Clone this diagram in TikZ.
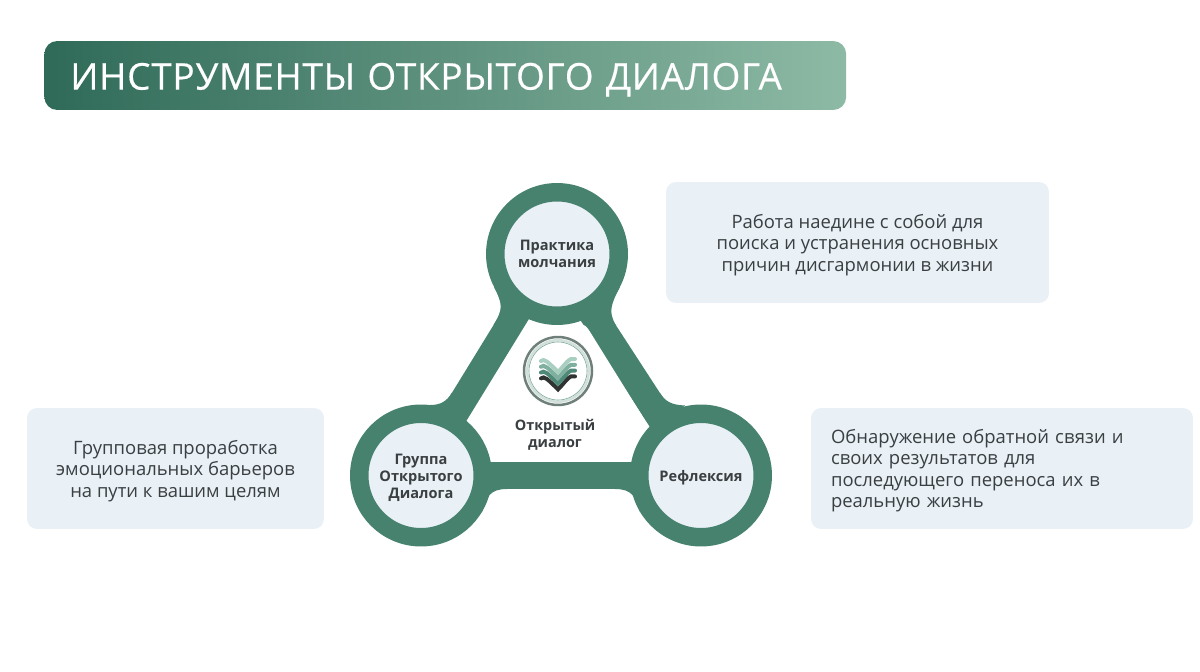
\documentclass[tikz,border=0pt]{standalone}
\usepackage{fontspec}
\setmainfont{Open Sans}
\newfontfamily\titlefont[FakeBold=0.4,LetterSpace=2.1]{Open Sans}
\usetikzlibrary{backgrounds}
\definecolor{hubgreen}{HTML}{47826F}
\definecolor{boxblue}{HTML}{E9F0F6}
\definecolor{bodygray}{HTML}{3A3F42}
\definecolor{titleleft}{HTML}{2F6A58}
\definecolor{titleright}{HTML}{8DBAA5}
\definecolor{bandd}{HTML}{2F3433}
\definecolor{bandc}{HTML}{4F8A78}
\definecolor{bandb}{HTML}{7FB09F}
\definecolor{banda}{HTML}{A9CFC0}
\newcommand{\hubpad}{\rule{0pt}{8.6pt}}
\newcommand{\boxpad}{\rule{0pt}{10.7pt}}
\tikzset{
  hub/.style={circle,draw=hubgreen,line width=0.37cm,fill=boxblue,minimum size=2.47cm,
    inner sep=0,align=center,text=bodygray,font=\fontsize{8.3}{9.8}\selectfont\bfseries},
  spoke/.style={hubgreen,line width=0.54cm},
  infobox/.style={fill=boxblue,rounded corners=0.2cm,minimum height=2.42cm,inner sep=0,
    align=center,text=bodygray,font=\fontsize{10.5}{12.2}\selectfont},
  titlebar/.style={left color=titleleft,right color=titleright,rounded corners=0.26cm,
    minimum width=16.04cm,minimum height=1.38cm,inner xsep=0.52cm,text width=15cm,
    text=white,font=\fontsize{21}{24}\titlefont\selectfont},
  fillet/.style={fill=hubgreen},
}
\begin{document}
\begin{tikzpicture}[x=0.02cm,y=-0.02cm]
  \useasboundingbox (0,0) rectangle (1200,672);
  \node[titlebar,anchor=west] (title) at (44,75.5) {\rule{0pt}{20pt}ИНСТРУМЕНТЫ ОТКРЫТОГО ДИАЛОГА};

  \node[hub] (practice) at (557,254) {Практика\\молчания};
  \node[hub] (group) at (421,475.5) {\hubpad Группа\\Открытого\\Диалога};
  \node[hub] (reflection) at (701,475.5) {\hubpad Рефлексия};

  \node[infobox,minimum width=7.66cm] (practicetext) at (857.5,242.5)
    {\boxpad Работа наедине с собой для\\поиска и устранения основных\\причин дисгармонии в жизни};
  \node[infobox,minimum width=5.94cm] (grouptext) at (175.5,468.5)
    {\boxpad Групповая проработка\\эмоциональных барьеров\\на пути к вашим целям};
  \node[infobox,inner xsep=0.4cm,text width=6.84cm,align=left] (reflectiontext) at (1002,468.5)
    {\boxpad Обнаружение обратной связи и\\своих результатов для\\последующего переноса их в\\реальную жизнь};

  \begin{scope}[on background layer]
    \draw[spoke] ([xshift=-0.08cm]practice.center) -- ([xshift=-0.08cm]group.center);
    \draw[spoke] ([xshift=-0.07cm]practice.center) -- ([xshift=-0.07cm]reflection.center);
    \draw[spoke] (group.center) -- (reflection.center);
    % smooth joins
    \fill[fillet] (494,287) .. controls (503,305) and (503,309) .. (493.5,325) -- (530,300) -- cycle;
    \fill[fillet] (620,287) .. controls (611,304) and (608,312) .. (615.8,325) -- (585,300) -- cycle;
    \fill[fillet] (452,392.5) .. controls (447,401) and (441,405) .. (430,405) -- (450,430) -- cycle;
    \fill[fillet] (660,393) .. controls (665,401) and (671,405) .. (685,405.5) -- (660,430) -- cycle;
    \fill[fillet] (507,489) .. controls (490,489) and (486,497) .. (482,512) -- (470,480) -- cycle;
    \fill[fillet] (615,489) .. controls (632,489) and (636,497) .. (640,512) -- (650,480) -- cycle;
    % inner white area
    \fill[white] (526.7,333.3) .. controls (530,327) and (533,324) .. (537,324)
      .. controls (545,324) and (550,329.3) .. (557,329.3)
      .. controls (565,329.3) and (572,324) .. (580,324)
      .. controls (584,324) and (587,327) .. (589.3,330.7)
      -- (641.7,415) .. controls (645,420) and (646,425) .. (642,433)
      -- (630,456.7) .. controls (627,460) and (624,461.7) .. (620,461.7)
      -- (500,461.7) .. controls (496,461.7) and (493,460) .. (490,456.7)
      -- (475,430) .. controls (471,423) and (470,415) .. (476.7,408.3) -- cycle;
  \end{scope}

  % logo
  \node[circle,draw=gray!70!hubgreen,line width=0.05cm,fill=white,minimum size=1.36cm,inner sep=0] (logo) at (558,371) {};
  \draw[hubgreen!25,line width=0.05cm] (logo.center) circle (0.615cm);
  \draw[hubgreen!70,line width=0.012cm] (logo.center) circle (0.58cm);
  \foreach \dy/\bandcol in {17.4/bandd,11.6/bandc,5.8/bandb,0/banda}
    \draw[draw=\bandcol,line width=0.08cm,line cap=round] (541,361+\dy)
      .. controls (544,358+\dy) and (548,362+\dy) .. (558,372+\dy)
      .. controls (566,364+\dy) and (569,357+\dy) .. (575,359+\dy);

  \node[align=center,text=bodygray,font=\fontsize{8.2}{9.8}\selectfont\bfseries] (centerlabel) at (555,434.5) {Открытый\\диалог};
\end{tikzpicture}
\end{document}
